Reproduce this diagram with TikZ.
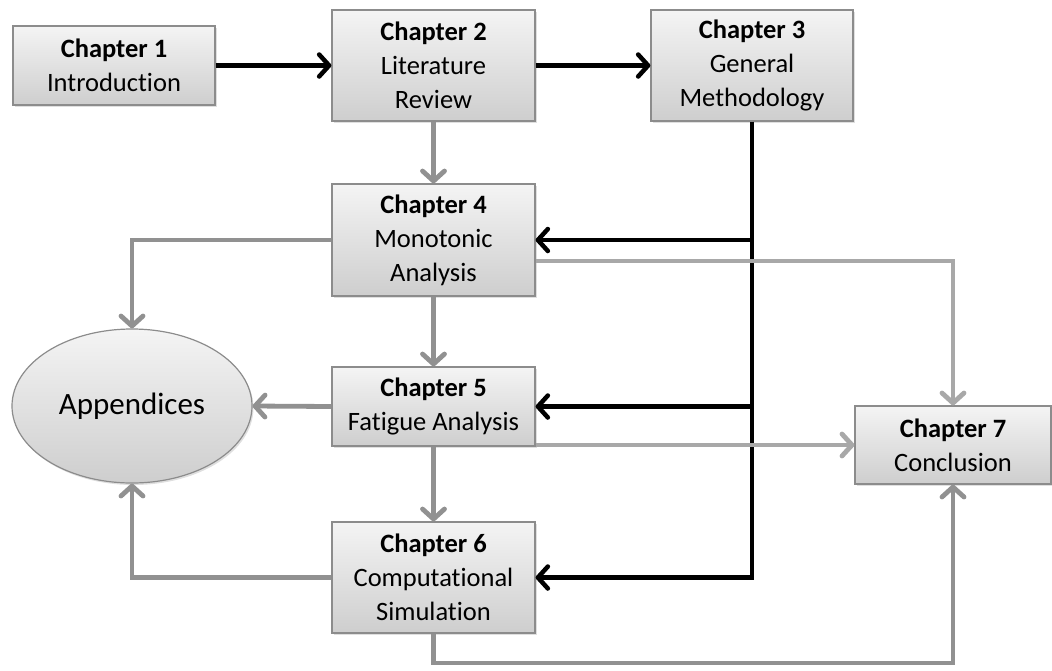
\documentclass[tikz,border=0pt]{standalone}
\usepackage{fontspec}
\setmainfont[Ligatures={NoCommon}]{Carlito}
\usetikzlibrary{arrows.meta,shadows,shapes.geometric,calc}
\definecolor{boxtop}{RGB}{244,244,244}
\definecolor{boxbot}{RGB}{206,206,206}
\definecolor{boxline}{RGB}{140,140,140}
\definecolor{linkA}{RGB}{145,145,145}
\definecolor{linkB}{RGB}{168,168,168}
\begin{document}
\begin{tikzpicture}[x=1pt,y=-1pt,
  chap/.style={draw=boxline, line width=1.2pt, top color=boxtop, bottom color=boxbot,
    align=center, inner sep=0pt, font=\fontsize{26.5}{34}\selectfont,
    drop shadow={shadow xshift=1.5pt, shadow yshift=-2pt, opacity=0.25}},
  blkarrow/.style={line width=4.5pt, draw=black, -{Straight Barb[length=10pt,width=22pt,round]}},
  grayA/.style={line width=4.8pt, draw=linkA, -{Straight Barb[length=10pt,width=22pt,round]}},
  grayB/.style={line width=4.8pt, draw=linkB, -{Straight Barb[length=10pt,width=22pt,round]}}
]
\useasboundingbox (0,0) rectangle (1052,670);

\node[chap, minimum width=202pt, minimum height=79pt] (c1) at (114,65.5) {\textbf{Chapter 1}\\Introduction};
\node[chap, minimum width=203pt, minimum height=111pt] (c2) at (433.5,65.5) {\textbf{Chapter 2}\\Literature\\Review};
\node[chap, minimum width=202pt, minimum height=111pt] (c3) at (752,65.5) {\textbf{Chapter 3}\\General\\Methodology};
\node[chap, minimum width=203pt, minimum height=112pt] (c4) at (433.5,240) {\textbf{Chapter 4}\\Monotonic\\Analysis};
\node[chap, minimum width=203pt, minimum height=79pt] (c5) at (433.5,406.5) {\textbf{Chapter 5}\\Fatigue Analysis};
\node[chap, minimum width=203pt, minimum height=111pt] (c6) at (433.5,577.5) {\textbf{Chapter 6}\\Computational\\Simulation};
\node[chap, minimum width=196pt, minimum height=78pt] (c7) at (953,445) {\textbf{Chapter 7}\\Conclusion};
\node[chap, ellipse, inner sep=0pt, minimum width=240pt, minimum height=154pt,
  font=\fontsize{31}{36}\selectfont] (app) at (132,406) {Appendices};

% black connectors
\draw[blkarrow] (c1.east) -- (c2.west);
\draw[blkarrow] (c2.east) -- (c3.west);
\draw[blkarrow] (c3.south) |- (c6.east);
\coordinate (j4) at (c3.south |- c4.east);
\coordinate (j5) at (c3.south |- c5.east);
\draw[blkarrow] (j4) -- (c4.east);
\draw[blkarrow] (j5) -- (c5.east);

% gray connectors
\coordinate (bot) at (433.5,663);
\draw[grayA] (c2.south) -- (c4.north);
\draw[grayA] (c4.south) -- (c5.north);
\draw[grayA] (c5.south) -- (c6.north);
\draw[grayA] (c4.west) -| (app.north);
\draw[grayA] (c5.west) -- (app.east);
\draw[grayA] (c6.west) -| (app.south);
\draw[grayB] ([yshift=-21pt]c4.east) -| (c7.north);
\draw[grayB] (c5.east |- c7.west) -- (c7.west);
\draw[grayA] (c6.south) -- (bot) -| (c7.south);
\end{tikzpicture}
\end{document}
